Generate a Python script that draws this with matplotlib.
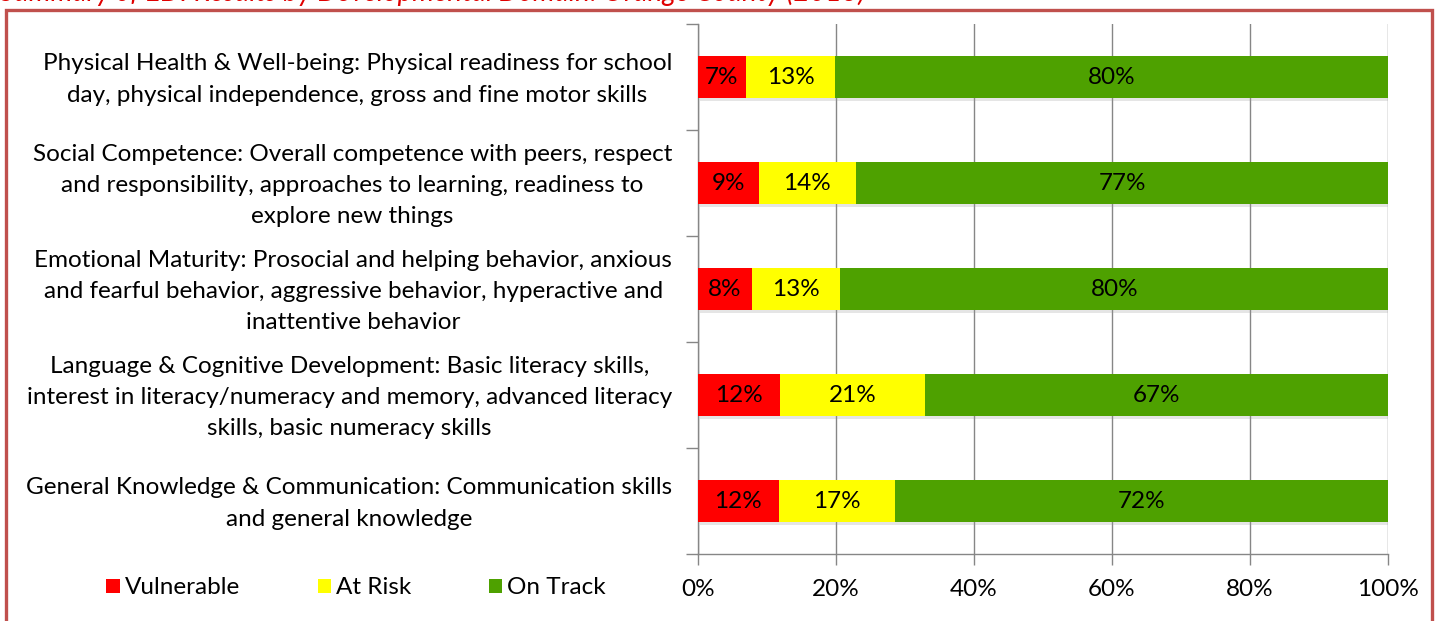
import matplotlib
matplotlib.use("Agg")
import matplotlib.pyplot as plt
import matplotlib.patheffects as pe
from matplotlib.patches import Rectangle, Patch
from matplotlib.transforms import ScaledTranslation
import numpy as np

plt.rcParams['font.family'] = ['Lato', 'DejaVu Sans']

# domains, top to bottom
domains = [
    "Physical Health & Well-being: Physical readiness for school\nday, physical independence, gross and fine motor skills",
    "Social Competence: Overall competence with peers, respect\nand responsibility, approaches to learning, readiness to\nexplore new things",
    "Emotional Maturity: Prosocial and helping behavior, anxious\nand fearful behavior, aggressive behavior, hyperactive and\ninattentive behavior",
    "Language & Cognitive Development: Basic literacy skills,\ninterest in literacy/numeracy and memory, advanced literacy\nskills, basic numeracy skills",
    "General Knowledge & Communication: Communication skills\nand general knowledge",
]
vulnerable = [6.9, 8.8, 7.8, 11.9, 11.7]
at_risk = [13.0, 14.1, 12.8, 21.0, 16.9]
on_track = [80.1, 77.1, 79.5, 67.1, 71.5]

series = ["Vulnerable", "At Risk", "On Track"]
colors = ["#FF0000", "#FFFF00", "#4EA100"]
title = "Summary of EDI Results by Developmental Domain: Orange County (2013)"

FS = 17.5

fig = plt.figure(figsize=(14.39, 6.21), dpi=100)
ax = fig.add_axes([698 / 1439, 1 - 554 / 621, 690 / 1439, 530 / 621])

y = np.arange(len(domains))
left = np.zeros(len(domains))
shadow = [pe.SimplePatchShadow(offset=(1.5, -2), shadow_rgbFace='#999999', alpha=0.25), pe.Normal()]
for name, vals, col in zip(series, [vulnerable, at_risk, on_track], colors):
    vals = np.array(vals)
    bars = ax.barh(y, vals, left=left, height=0.4, color=col, label=name, zorder=3)
    for b in bars:
        b.set_path_effects(shadow)
    for yi, l, v in zip(y, left, vals):
        ax.text(l + v / 2, yi, f"{v:.0f}%", ha='center', va='center', fontsize=FS, color='black', zorder=4)
    left = left + vals

ax.set_xlim(0, 100)
ax.set_ylim(len(domains) - 0.5, -0.5)
ax.set_xticks(np.arange(0, 101, 20))
ax.set_xticklabels([f"{v}%" for v in range(0, 101, 20)], fontsize=FS)

# category labels drawn as texts so their vertical spot can be tuned
ax.set_yticks(y)
ax.set_yticklabels([])
lab_tr = ax.get_yaxis_transform() + ScaledTranslation(-0.26, -0.025, fig.dpi_scale_trans)
for yi, d in zip(y, domains):
    ax.text(0, yi, d, transform=lab_tr, ha='right', va='center', multialignment='center',
            fontsize=FS, linespacing=1.6)

ax.set_yticks(np.arange(-0.5, len(domains), 1), minor=True)
ax.tick_params(axis='y', which='major', length=0)
ax.tick_params(axis='y', which='minor', length=9, color='#868686', width=1)
ax.tick_params(axis='x', length=8, color='#868686', width=1, pad=10)
ax.grid(axis='x', color='#868686', linewidth=1, zorder=0)
for s in ['top', 'right']:
    ax.spines[s].set_visible(False)
for s in ['left', 'bottom']:
    ax.spines[s].set_color('#868686')
    ax.spines[s].set_linewidth(1)

handles = [Patch(facecolor=c, edgecolor='none') for c in colors]
fig.legend(handles, series, loc='center', bbox_to_anchor=(356 / 1439, 1 - 588 / 621),
           ncol=3, frameon=False, fontsize=FS, handlelength=0.55, handleheight=0.55,
           handletextpad=0.2, columnspacing=3.2)

# outer frame
fig.patches.append(Rectangle((6 / 1439, -0.05), 1426 / 1439, 1.05 - 10 / 621,
                             transform=fig.transFigure, fill=False, edgecolor='#C0504D',
                             linewidth=2.4, zorder=10))
# title, cut off at top of the picture
fig.text(0.0, 1 - 1 / 621, title, ha='left', va='baseline', fontsize=20, style='italic', color='#E00000')

fig.savefig("out.png", dpi=100)
